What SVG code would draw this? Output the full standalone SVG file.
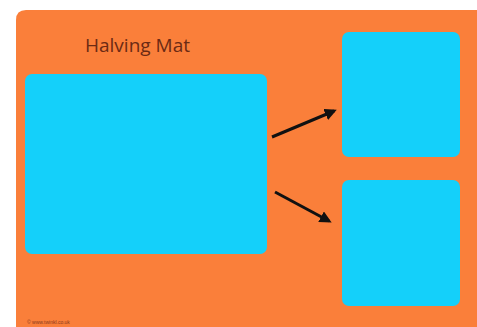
<svg xmlns="http://www.w3.org/2000/svg" width="477" height="327" viewBox="0 0 477 327">
<style>
.box{fill:#14D0FA;}
.conn line{stroke:#111;stroke-width:3;fill:none;marker-end:url(#ah);}
.title{font-family:"Open Sans","DejaVu Sans",sans-serif;font-size:19px;font-weight:500;fill:#6B2A14;}
.foot{font-family:"Liberation Sans",sans-serif;font-size:5px;fill:#8a3a1a;}
</style>
<defs>
<marker id="ah" markerWidth="4" markerHeight="4" refX="3" refY="2" orient="auto" markerUnits="strokeWidth">
<path d="M0,0 L4,2 L0,4 z" fill="#111"/>
</marker>
</defs>
<rect width="477" height="327" fill="#FFFFFF"/>
<path d="M26,10 H477 V327 H16 V20 Q16,10 26,10 Z" fill="#FA7F3A"/>
<g id="title"><text class="title" x="85" y="52">Halving Mat</text></g>
<g id="whole"><rect class="box" x="25" y="74" width="242" height="180" rx="7"/></g>
<g id="half1"><rect class="box" x="342" y="32" width="118" height="125" rx="7"/></g>
<g id="half2"><rect class="box" x="342" y="180" width="118" height="126" rx="7"/></g>
<g class="conn" id="connectors">
<line x1="272" y1="137" x2="334" y2="111"/>
<line x1="275" y1="192" x2="329" y2="221"/>
</g>
<text class="foot" x="27" y="324">© www.twinkl.co.uk</text>
</svg>
